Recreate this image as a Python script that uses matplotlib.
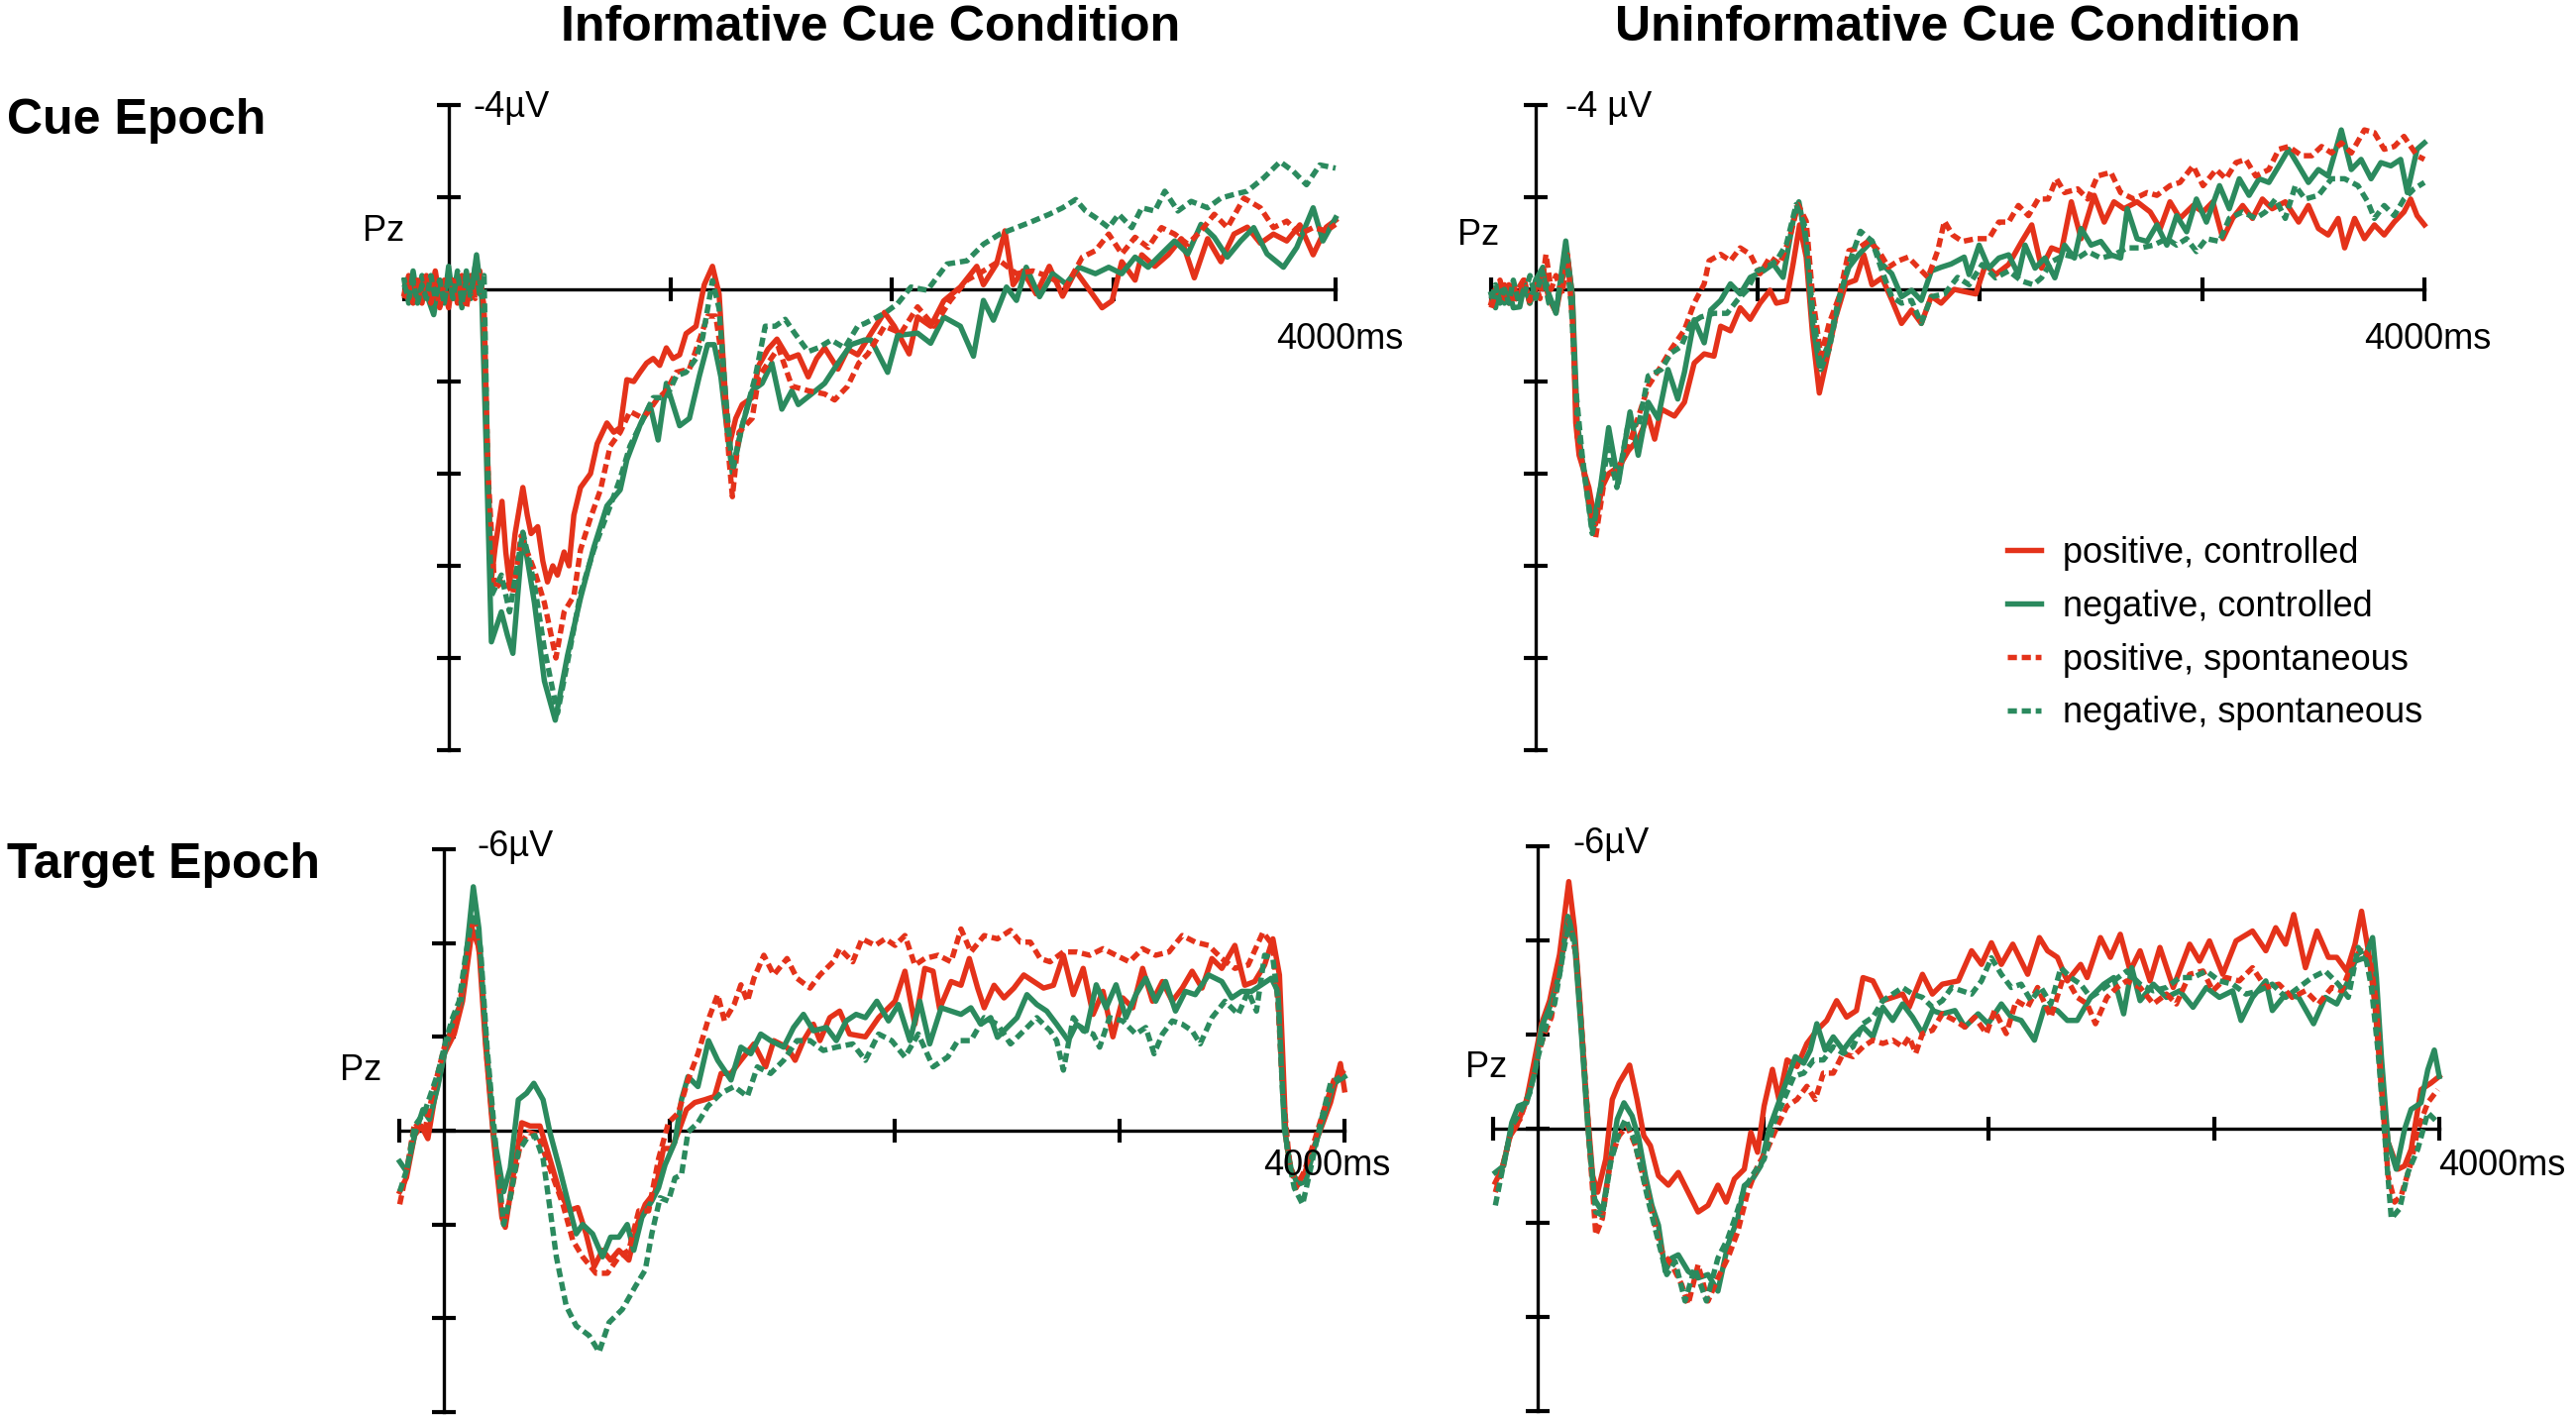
import matplotlib
matplotlib.use("Agg")
from matplotlib import pyplot as plt
import numpy as np

plt.rcParams["font.family"] = ["Liberation Sans", "DejaVu Sans"]

# ERP waveforms at Pz, (time ms, amplitude µV); negative is plotted up
cue_inf_pos_ctrl = [(-200,0.1),(-180,-0.3),(-160,0.2),(-140,-0.1),(-120,0.3),(-100,-0.2),(-80,0.1),(-60,-0.4),(-40,0.2),(-20,0.0),(0,0.4),(20,-0.2),(40,0.3),(60,-0.3),(80,0.2),(100,-0.3),(120,0.1),(141,-0.4),(156,0.3),(172,3.0),(193,6.3),(210,5.6),(241,4.6),(258,5.7),(275,6.4),(300,5.3),(335,4.3),(355,4.9),(372,5.3),(402,5.15),(425,5.9),(446,6.35),(470,6.0),(491,6.2),(521,5.7),(543,6.0),(565,4.9),(595,4.3),(640,4.0),(670,3.35),(714,2.9),(745,3.1),(774,3.0),(804,1.96),(835,2.0),(863,1.8),(893,1.6),(923,1.5),(952,1.65),(982,1.27),(1012,1.5),(1042,1.42),(1071,0.96),(1116,0.8),(1153,-0.1),(1190,-0.5),(1220,0.1),(1243,1.9),(1265,3.4),(1295,2.8),(1324,2.5),(1369,2.35),(1399,1.65),(1440,1.3),(1481,1.08),(1533,1.5),(1577,1.42),(1622,1.9),(1660,1.5),(1696,1.27),(1756,1.73),(1800,1.3),(1845,1.42),(1906,0.95),(1966,0.5),(2010,0.8),(2077,1.4),(2115,0.6),(2174,0.8),(2233,0.25),(2308,-0.05),(2382,-0.5),(2412,-0.1),(2471,-0.55),(2509,-1.27),(2546,-0.1),(2590,-0.4),(2650,0.1),(2709,-0.5),(2769,0.15),(2828,-0.4),(2888,0.0),(2947,0.4),(2992,0.25),(3036,-0.6),(3096,-0.2),(3126,-0.75),(3185,-0.5),(3245,-0.75),(3304,-1.1),(3363,-0.25),(3423,-1.1),(3483,-0.6),(3542,-1.2),(3602,-1.35),(3661,-1.0),(3720,-1.2),(3780,-1.05),(3839,-1.4),(3899,-0.75),(3958,-1.35),(4000,-1.5)]
cue_inf_neg_ctrl = [(-200,-0.2),(-180,0.3),(-160,-0.4),(-140,0.2),(-120,-0.3),(-100,0.1),(-67,0.55),(-40,-0.2),(-20,0.3),(0,-0.5),(20,0.2),(40,-0.3),(60,0.4),(80,-0.4),(100,0.2),(126,-0.75),(150,0.2),(170,3.5),(193,7.65),(238,7.0),(265,7.5),(290,7.9),(335,5.3),(360,6.0),(387,6.8),(432,8.5),(481,9.35),(536,7.95),(595,6.7),(655,5.6),(714,4.7),(774,4.35),(804,3.7),(863,2.95),(908,2.5),(945,3.27),(982,2.04),(1042,2.96),(1086,2.8),(1131,1.88),(1168,1.2),(1198,1.2),(1228,1.9),(1257,3.1),(1280,4.0),(1324,2.96),(1369,2.2),(1414,2.04),(1458,1.6),(1503,2.6),(1548,2.2),(1577,2.5),(1637,2.27),(1696,2.04),(1756,1.6),(1815,1.2),(1875,1.1),(1906,1.1),(1980,1.8),(2025,1.0),(2115,0.95),(2174,1.17),(2233,0.6),(2308,0.8),(2367,1.45),(2412,0.24),(2457,0.67),(2516,-0.05),(2561,0.24),(2605,-0.48),(2665,0.16),(2724,-0.34),(2784,-0.12),(2843,-0.48),(2917,-0.34),(2977,-0.48),(3036,-0.34),(3096,-0.7),(3155,-0.48),(3215,-0.77),(3274,-1.05),(3334,-0.77),(3393,-1.41),(3453,-1.13),(3512,-0.7),(3572,-1.05),(3631,-1.34),(3691,-0.77),(3765,-0.48),(3825,-0.91),(3899,-1.77),(3943,-1.05),(4000,-1.55)]
cue_inf_pos_spon = [(-200,0.2),(-180,-0.1),(-160,0.3),(-140,-0.2),(-120,0.2),(-100,-0.3),(-80,0.3),(-60,-0.1),(-40,0.4),(-20,-0.2),(0,0.3),(20,-0.3),(40,0.2),(60,-0.2),(80,0.4),(100,-0.1),(120,0.2),(140,-0.3),(160,0.4),(178,4.0),(208,6.5),(253,6.3),(290,6.6),(327,5.35),(387,6.1),(432,6.8),(484,8.0),(521,7.0),(565,6.65),(595,5.65),(640,4.96),(685,4.35),(729,3.4),(774,3.1),(818,2.65),(878,2.8),(938,2.4),(982,2.2),(1027,1.8),(1086,1.73),(1131,1.1),(1168,0.58),(1205,0.58),(1235,1.58),(1265,3.7),(1280,4.5),(1310,3.1),(1369,2.8),(1399,1.9),(1443,1.58),(1488,1.27),(1548,2.1),(1622,2.2),(1696,2.27),(1741,2.4),(1800,2.1),(1850,1.6),(1891,1.4),(1966,0.8),(2040,0.95),(2115,0.38),(2189,0.8),(2263,0.24),(2338,-0.2),(2412,-0.4),(2486,-0.62),(2561,-0.34),(2635,-0.4),(2709,-0.27),(2784,-0.05),(2858,-0.7),(2917,-0.84),(2977,-1.2),(3036,-0.77),(3096,-1.13),(3155,-0.91),(3215,-1.34),(3274,-1.2),(3334,-0.98),(3393,-1.27),(3453,-1.63),(3512,-1.34),(3587,-1.98),(3661,-1.77),(3720,-1.34),(3780,-1.48),(3839,-1.2),(3899,-1.34),(3958,-1.27),(4000,-1.41)]
cue_inf_neg_spon = [(-200,-0.1),(-180,0.2),(-160,-0.2),(-140,0.3),(-120,-0.1),(-100,0.2),(-80,-0.3),(-60,0.2),(-40,-0.2),(-20,0.3),(0,-0.3),(20,0.2),(40,-0.4),(60,0.3),(80,-0.2),(100,0.1),(120,-0.5),(140,0.1),(160,-0.3),(175,3.5),(193,6.65),(238,6.2),(275,7.0),(335,5.27),(387,6.4),(432,7.8),(491,9.2),(536,8.1),(595,6.6),(655,5.65),(729,4.7),(774,4.1),(818,3.4),(863,2.96),(923,2.35),(982,2.35),(1027,1.88),(1071,1.8),(1116,1.5),(1146,1.04),(1190,-0.19),(1220,0.42),(1250,2.35),(1280,3.9),(1324,2.96),(1384,1.88),(1428,0.8),(1473,0.8),(1518,0.65),(1562,0.96),(1622,1.35),(1666,1.27),(1726,1.1),(1786,1.27),(1845,0.8),(1877,0.74),(1966,0.52),(2025,0.31),(2085,-0.05),(2159,0.02),(2248,-0.55),(2338,-0.62),(2412,-0.98),(2486,-1.2),(2561,-1.34),(2635,-1.48),(2709,-1.63),(2769,-1.77),(2828,-1.95),(2873,-1.7),(2917,-1.56),(2977,-1.34),(3022,-1.63),(3081,-1.34),(3126,-1.77),(3185,-1.7),(3230,-2.13),(3289,-1.7),(3349,-1.91),(3423,-1.77),(3483,-1.98),(3542,-2.06),(3602,-2.13),(3676,-2.42),(3750,-2.77),(3810,-2.56),(3869,-2.27),(3929,-2.7),(4000,-2.63)]

cue_uninf_pos_ctrl = [(-200,0.3),(-182,0.0),(-160,0.2),(-140,-0.1),(-120,0.3),(-100,-0.1),(-80,0.2),(-50,-0.2),(-27,0.3),(0,0.0),(33,-0.35),(60,0.2),(92,0.5),(120,-0.2),(144,-0.7),(166,0.15),(181,2.9),(196,3.6),(240,4.3),(270,5.1),(299,4.3),(329,4.0),(359,3.9),(388,3.75),(418,3.5),(462,3.25),(507,2.75),(536,3.25),(566,2.6),(625,2.75),(670,2.45),(714,1.6),(759,1.4),(803,1.45),(833,0.8),(877,0.9),(921,0.4),(966,0.65),(1010,0.3),(1055,0.02),(1084,0.3),(1129,0.25),(1159,-0.55),(1188,-1.4),(1218,-0.7),(1247,1.0),(1277,2.25),(1307,1.6),(1351,0.6),(1396,-0.12),(1440,-0.2),(1477,-0.75),(1514,-0.1),(1559,-0.25),(1603,0.23),(1647,0.74),(1692,0.45),(1736,0.74),(1781,0.15),(1825,0.3),(1884,0.0),(1921,0.04),(1981,0.1),(2025,-0.54),(2070,-0.32),(2129,-0.54),(2188,-1.04),(2233,-1.4),(2277,-0.46),(2322,-0.9),(2366,-0.82),(2411,-1.9),(2455,-1.1),(2514,-2.04),(2559,-1.46),(2603,-1.9),(2648,-1.75),(2707,-1.9),(2766,-1.68),(2811,-1.32),(2855,-1.9),(2900,-1.54),(2959,-1.82),(3004,-1.68),(3048,-1.9),(3093,-1.1),(3137,-1.54),(3182,-1.82),(3226,-1.54),(3271,-1.96),(3315,-1.75),(3374,-1.9),(3434,-1.46),(3478,-1.82),(3523,-1.32),(3567,-1.18),(3612,-1.54),(3641,-0.9),(3686,-1.54),(3730,-1.1),(3775,-1.4),(3819,-1.18),(3864,-1.46),(3908,-1.68),(3938,-1.96),(3967,-1.6),(4000,-1.4)]
cue_uninf_neg_ctrl = [(-200,0.1),(-180,0.4),(-160,-0.1),(-140,0.3),(-120,0.0),(-100,0.4),(-71,0.38),(-50,-0.1),(-25,0.3),(0,-0.2),(33,-0.48),(60,0.1),(92,0.52),(115,-0.3),(136,-1.05),(166,0.16),(188,2.9),(210,3.7),(255,5.2),(292,4.3),(329,3.0),(373,4.2),(425,2.66),(462,3.6),(507,2.45),(551,2.8),(596,1.74),(640,2.38),(670,1.8),(714,0.66),(759,1.16),(788,0.45),(833,0.24),(877,-0.12),(921,0.1),(966,-0.26),(1025,-0.4),(1070,-0.55),(1114,-0.26),(1159,-1.48),(1185,-1.9),(1218,-1.05),(1247,0.74),(1277,1.66),(1321,1.16),(1366,0.16),(1410,-0.48),(1455,-0.76),(1514,-1.05),(1559,-0.55),(1603,-0.34),(1647,0.16),(1692,0.02),(1736,0.24),(1781,-0.4),(1825,-0.48),(1870,-0.55),(1929,-0.7),(1951,-0.32),(1996,-0.96),(2040,-0.46),(2085,-0.68),(2129,-0.75),(2173,-0.32),(2203,-0.96),(2248,-0.46),(2292,-0.68),(2337,-0.25),(2381,-0.96),(2425,-0.68),(2455,-1.32),(2500,-0.96),(2544,-1.04),(2589,-0.75),(2633,-0.68),(2663,-1.75),(2707,-1.1),(2752,-1.04),(2796,-1.4),(2841,-0.96),(2885,-1.6),(2930,-1.25),(2974,-1.96),(3019,-1.46),(3078,-2.25),(3122,-1.75),(3167,-2.4),(3211,-2.04),(3256,-2.4),(3300,-2.32),(3345,-2.68),(3389,-3.04),(3434,-2.68),(3478,-2.32),(3523,-2.6),(3567,-2.46),(3597,-2.96),(3626,-3.46),(3671,-2.6),(3715,-2.82),(3760,-2.4),(3804,-2.75),(3849,-2.68),(3893,-2.82),(3923,-2.1),(3967,-3.04),(4000,-3.18)]
cue_uninf_pos_spon = [(-200,0.4),(-180,0.1),(-160,-0.2),(-140,0.2),(-120,-0.1),(-100,0.3),(-80,0.0),(-55,-0.2),(-27,0.25),(0,-0.1),(20,0.2),(47,-0.76),(70,0.0),(92,-0.3),(120,0.1),(144,-0.75),(166,0.7),(188,3.2),(225,4.15),(270,5.4),(314,4.0),(359,4.0),(403,3.6),(447,3.0),(507,2.1),(566,1.66),(610,1.3),(670,0.88),(714,0.3),(759,-0.12),(781,-0.62),(833,-0.76),(877,-0.62),(921,-0.9),(966,-0.76),(1010,-0.34),(1055,-0.7),(1099,-0.55),(1144,-1.12),(1181,-1.84),(1218,-1.48),(1247,0.16),(1284,1.45),(1321,0.74),(1366,0.16),(1410,-0.84),(1455,-0.9),(1499,-1.05),(1544,-0.84),(1588,-0.48),(1633,-0.62),(1677,-0.7),(1721,-0.48),(1766,-0.26),(1810,-0.84),(1840,-1.48),(1877,-1.18),(1921,-1.04),(1981,-1.1),(2040,-1.1),(2085,-1.46),(2129,-1.46),(2173,-1.82),(2218,-1.6),(2262,-1.96),(2307,-1.96),(2344,-2.4),(2381,-2.1),(2440,-2.18),(2485,-1.96),(2529,-2.46),(2589,-2.54),(2633,-2.1),(2692,-1.96),(2752,-2.1),(2796,-2.04),(2855,-2.25),(2900,-2.32),(2959,-2.68),(3004,-2.25),(3063,-2.6),(3107,-2.4),(3152,-2.75),(3196,-2.82),(3241,-2.46),(3300,-2.6),(3345,-3.04),(3389,-3.1),(3448,-2.9),(3493,-2.9),(3537,-3.1),(3582,-2.96),(3626,-3.18),(3671,-2.96),(3730,-3.46),(3775,-3.4),(3819,-3.04),(3864,-3.1),(3908,-3.32),(3967,-2.9),(4000,-2.82)]
cue_uninf_neg_spon = [(-200,0.2),(-180,-0.1),(-160,0.3),(-140,0.0),(-120,0.3),(-100,-0.2),(-80,0.2),(-50,0.1),(-25,-0.3),(0,0.2),(30,-0.4),(60,0.3),(92,0.4),(115,-0.2),(136,-0.9),(160,0.3),(181,2.16),(210,3.6),(255,5.3),(299,4.15),(329,3.45),(366,4.3),(418,2.88),(462,3.0),(507,1.88),(566,1.74),(610,1.38),(655,1.24),(699,0.74),(744,0.6),(803,0.52),(862,0.52),(907,0.24),(951,0.02),(996,-0.4),(1040,-0.48),(1084,-0.62),(1129,-0.98),(1173,-1.84),(1210,-1.4),(1247,0.45),(1284,1.74),(1321,1.3),(1366,0.24),(1410,-0.55),(1462,-1.26),(1514,-1.05),(1559,-0.4),(1603,0.16),(1647,0.3),(1692,0.24),(1736,0.74),(1781,0.16),(1840,0.1),(1899,-0.26),(1951,-0.1),(2010,-0.54),(2070,-0.25),(2129,-0.4),(2188,-0.18),(2240,-0.1),(2277,-0.25),(2322,-0.6),(2381,-0.75),(2440,-0.68),(2485,-0.82),(2544,-0.68),(2603,-0.75),(2663,-0.9),(2722,-0.9),(2781,-0.96),(2841,-1.1),(2885,-0.96),(2930,-1.1),(2974,-0.82),(3019,-1.1),(3078,-1.04),(3122,-1.54),(3182,-1.68),(3241,-1.54),(3285,-1.68),(3330,-1.96),(3374,-1.54),(3419,-2.25),(3463,-1.96),(3523,-2.04),(3582,-2.4),(3641,-2.4),(3701,-2.25),(3745,-1.9),(3775,-1.54),(3819,-1.82),(3864,-1.6),(3908,-1.96),(3953,-2.18),(4000,-2.32)]

tgt_inf_pos_ctrl = [(-198,1.3),(-168,1.0),(-132,0.1),(-102,-0.1),(-73,0.17),(-44,-0.66),(0,-1.64),(44,-2.06),(81,-2.76),(124,-4.3),(154,-3.9),(183,-1.85),(220,0.24),(256,1.85),(271,2.06),(307,0.94),(344,-0.17),(381,-0.1),(425,-0.1),(469,0.6),(512,1.3),(556,1.7),(593,1.64),(630,2.2),(666,2.9),(703,2.55),(739,2.76),(776,2.55),(820,2.76),(857,2.0),(893,1.57),(937,1.3),(974,0.38),(1010,0.38),(1040,0.03),(1076,-0.45),(1113,-0.6),(1157,-0.66),(1201,-0.73),(1230,-1.22),(1274,-1.22),(1318,-1.5),(1376,-1.85),(1428,-1.36),(1464,-1.92),(1523,-1.78),(1559,-1.5),(1596,-1.92),(1640,-2.27),(1669,-1.92),(1713,-2.41),(1757,-2.55),(1801,-2.06),(1871,-2.0),(1930,-2.41),(2003,-2.76),(2047,-3.4),(2091,-2.27),(2135,-3.46),(2172,-3.4),(2201,-2.6),(2252,-3.18),(2296,-3.1),(2333,-3.67),(2370,-3.04),(2399,-2.62),(2443,-3.1),(2487,-2.83),(2531,-3.04),(2575,-3.32),(2619,-3.18),(2663,-3.04),(2707,-3.1),(2751,-3.74),(2795,-2.9),(2839,-3.46),(2883,-2.48),(2927,-2.97),(2971,-2.0),(3015,-2.83),(3059,-2.62),(3103,-3.46),(3147,-2.76),(3191,-3.18),(3235,-2.76),(3279,-3.04),(3323,-3.4),(3367,-3.04),(3411,-3.67),(3455,-3.46),(3513,-3.95),(3557,-3.1),(3601,-3.18),(3645,-3.53),(3682,-4.09),(3711,-3.32),(3726,-1.57),(3740,0.17),(3762,0.87),(3792,1.08),(3821,0.94),(3850,0.52),(3894,-0.03),(3938,-0.6),(3982,-1.43),(4000,-0.87)]
tgt_inf_neg_ctrl = [(-198,0.66),(-168,0.87),(-132,0.1),(-95,-0.45),(-66,-0.24),(-29,-0.94),(7,-1.78),(44,-2.41),(73,-2.69),(102,-3.95),(129,-5.2),(154,-4.3),(183,-2.06),(220,0.1),(264,1.3),(293,0.8),(329,-0.66),(366,-0.8),(398,-1.01),(439,-0.66),(469,0.03),(512,0.8),(556,1.64),(586,2.2),(615,2.0),(659,2.2),(703,2.69),(739,2.27),(776,2.27),(813,2.0),(842,2.55),(878,1.85),(922,1.5),(952,1.22),(981,0.73),(1025,0.24),(1054,-0.66),(1083,-1.15),(1127,-0.94),(1174,-1.92),(1215,-1.5),(1274,-1.08),(1318,-1.78),(1362,-1.64),(1406,-2.06),(1450,-1.92),(1508,-1.78),(1552,-2.2),(1596,-2.48),(1640,-2.13),(1698,-2.2),(1742,-1.92),(1786,-2.34),(1830,-2.48),(1871,-2.41),(1922,-2.76),(1974,-2.34),(2018,-2.69),(2069,-1.92),(2113,-2.76),(2157,-1.85),(2208,-2.62),(2252,-2.55),(2296,-2.48),(2340,-2.62),(2384,-2.27),(2428,-2.41),(2458,-1.99),(2501,-2.2),(2545,-2.41),(2589,-2.9),(2633,-2.69),(2677,-2.55),(2721,-2.27),(2773,-1.92),(2809,-2.27),(2853,-2.13),(2897,-3.11),(2941,-2.62),(2985,-3.11),(3029,-2.41),(3073,-2.9),(3117,-3.25),(3161,-2.76),(3205,-3.18),(3249,-2.55),(3293,-2.97),(3337,-2.9),(3396,-3.32),(3455,-3.18),(3499,-2.83),(3543,-2.97),(3587,-2.97),(3631,-3.11),(3675,-3.25),(3704,-2.97),(3718,-1.57),(3733,-0.03),(3762,0.8),(3792,1.15),(3828,1.08),(3865,0.38),(3909,-0.31),(3953,-1.01),(4000,-1.15)]
tgt_inf_pos_spon = [(-198,1.57),(-165,0.8),(-132,-0.17),(-88,0.03),(-51,-0.8),(0,-1.78),(59,-2.41),(110,-3.95),(132,-4.58),(161,-3.6),(190,-1.5),(227,0.45),(264,2.0),(293,1.43),(337,0.31),(373,0.03),(417,0.1),(454,0.6),(490,1.08),(527,1.57),(571,2.34),(615,2.69),(674,3.04),(725,3.04),(776,2.69),(820,2.55),(864,1.71),(908,1.71),(952,0.6),(996,-0.17),(1040,-0.38),(1083,-1.08),(1127,-1.64),(1171,-2.34),(1215,-2.9),(1245,-2.34),(1288,-2.69),(1318,-3.11),(1347,-2.76),(1376,-3.25),(1420,-3.74),(1464,-3.32),(1523,-3.67),(1567,-3.25),(1625,-3.04),(1669,-3.32),(1728,-3.6),(1757,-3.88),(1815,-3.6),(1856,-4.09),(1915,-3.95),(1959,-4.09),(2003,-3.95),(2047,-4.16),(2091,-3.53),(2135,-3.67),(2194,-3.74),(2252,-3.6),(2296,-4.3),(2340,-3.81),(2399,-4.16),(2458,-4.09),(2516,-4.27),(2560,-4.02),(2604,-4.02),(2648,-3.67),(2692,-3.6),(2751,-3.81),(2809,-3.81),(2868,-3.74),(2927,-3.88),(2985,-3.74),(3044,-3.6),(3103,-3.88),(3161,-3.74),(3220,-3.81),(3279,-4.16),(3337,-4.02),(3396,-3.95),(3455,-3.67),(3513,-3.46),(3572,-3.53),(3638,-4.23),(3682,-3.95),(3704,-2.76),(3726,-0.87),(3755,0.66),(3785,1.22),(3821,0.87),(3865,0.24),(3909,-0.45),(3953,-1.08),(4000,-1.29)]
tgt_inf_neg_spon = [(-198,1.3),(-165,0.8),(-132,-0.1),(-88,-0.39),(-29,-1.22),(7,-1.92),(37,-2.41),(66,-2.76),(95,-3.74),(132,-4.79),(161,-3.88),(190,-1.78),(227,0.24),(264,2.0),(293,1.43),(329,0.45),(366,0.17),(403,0.1),(439,0.6),(469,1.64),(498,2.69),(542,3.74),(586,4.16),(644,4.37),(688,4.72),(732,4.09),(791,3.81),(849,3.32),(893,2.97),(922,2.2),(959,1.43),(996,1.5),(1025,1.01),(1054,0.94),(1083,0.03),(1127,-0.17),(1171,-0.52),(1230,-0.8),(1288,-0.94),(1347,-0.73),(1391,-1.36),(1450,-1.22),(1508,-1.5),(1567,-1.92),(1625,-1.92),(1684,-1.71),(1742,-1.78),(1815,-1.85),(1871,-1.5),(1930,-2.06),(1988,-1.92),(2047,-1.57),(2106,-2.06),(2172,-1.36),(2237,-1.57),(2282,-1.92),(2340,-1.92),(2399,-2.41),(2458,-2.27),(2516,-1.85),(2575,-2.13),(2633,-2.41),(2692,-2.13),(2721,-1.92),(2751,-1.29),(2795,-2.41),(2839,-2.13),(2883,-2.06),(2912,-1.78),(2956,-2.41),(3015,-2.34),(3073,-2.06),(3117,-2.2),(3154,-1.64),(3191,-2.06),(3235,-2.34),(3279,-2.27),(3323,-2.13),(3359,-1.85),(3411,-2.41),(3469,-2.76),(3528,-2.48),(3572,-2.97),(3609,-2.55),(3645,-3.74),(3682,-3.67),(3707,-2.69),(3726,-0.73),(3748,0.52),(3777,1.22),(3814,1.57),(3850,0.8),(3894,-0.17),(3938,-1.01),(3982,-1.15)]

tgt_uninf_pos_ctrl = [(-190,1.14),(-161,0.86),(-124,0.15),(-95,-0.06),(-51,-0.62),(-22,-1.32),(15,-2.23),(51,-2.72),(95,-3.7),(136,-5.25),(161,-4.27),(183,-2.86),(212,-0.76),(242,1.0),(264,1.35),(300,0.65),(329,-0.62),(359,-0.97),(406,-1.35),(439,-0.62),(469,0.15),(498,0.36),(534,1.0),(578,1.2),(622,0.93),(666,1.35),(710,1.77),(754,1.63),(798,1.2),(835,1.56),(871,1.07),(915,0.86),(944,0.08),(974,0.5),(1003,-0.48),(1040,-1.26),(1069,-0.62),(1105,-1.46),(1149,-1.32),(1193,-1.81),(1237,-2.09),(1281,-2.3),(1325,-2.72),(1369,-2.37),(1413,-2.51),(1442,-3.21),(1486,-3.14),(1530,-2.72),(1574,-2.79),(1618,-2.86),(1647,-2.58),(1706,-3.28),(1750,-2.86),(1794,-3.07),(1865,-3.14),(1924,-3.78),(1968,-3.49),(2012,-3.95),(2056,-3.49),(2107,-3.92),(2173,-3.28),(2225,-4.06),(2261,-3.78),(2305,-3.64),(2349,-3.14),(2408,-3.49),(2437,-3.21),(2496,-4.06),(2540,-3.64),(2584,-4.13),(2628,-3.35),(2672,-3.78),(2716,-3.14),(2760,-3.85),(2819,-3.0),(2892,-3.92),(2936,-3.56),(2980,-3.99),(3039,-3.28),(3098,-3.99),(3171,-4.2),(3230,-3.78),(3274,-4.27),(3318,-3.92),(3354,-4.55),(3406,-3.42),(3457,-4.2),(3508,-3.64),(3545,-3.64),(3589,-3.35),(3626,-3.92),(3655,-4.62),(3685,-3.78),(3714,-2.65),(3743,-0.9),(3773,0.29),(3817,0.86),(3846,0.79),(3875,0.44),(3919,-0.83),(3963,-0.97),(4000,-1.11)]
tgt_uninf_neg_ctrl = [(-190,0.93),(-153,0.79),(-117,-0.13),(-88,-0.48),(-51,-0.55),(-15,-1.18),(15,-2.16),(51,-2.58),(95,-3.28),(132,-4.51),(161,-3.99),(190,-2.16),(220,-0.06),(249,1.49),(285,1.77),(322,0.65),(351,-0.2),(381,-0.55),(417,-0.27),(447,0.22),(476,1.0),(505,1.63),(534,2.05),(564,3.03),(593,2.75),(622,2.68),(666,3.03),(710,3.17),(754,3.1),(798,3.45),(842,2.47),(886,1.91),(915,1.21),(952,1.07),(988,0.79),(1025,0.01),(1062,-0.48),(1105,-1.04),(1142,-1.53),(1179,-1.39),(1208,-1.67),(1237,-2.23),(1274,-1.67),(1310,-1.95),(1354,-1.67),(1398,-1.95),(1442,-2.16),(1486,-1.95),(1530,-2.58),(1574,-2.3),(1618,-2.65),(1662,-2.37),(1706,-2.02),(1750,-2.51),(1794,-2.44),(1850,-2.51),(1894,-2.16),(1953,-2.44),(1997,-2.23),(2056,-2.65),(2100,-2.37),(2144,-2.3),(2203,-1.88),(2247,-2.58),(2305,-2.51),(2349,-2.3),(2393,-2.3),(2452,-2.79),(2511,-3.07),(2555,-3.21),(2599,-2.44),(2635,-3.42),(2672,-2.72),(2731,-3.07),(2789,-2.79),(2848,-2.93),(2907,-2.58),(2966,-3.0),(3024,-2.79),(3083,-2.93),(3120,-2.3),(3171,-2.79),(3230,-3.14),(3259,-2.51),(3318,-2.86),(3376,-2.79),(3442,-2.23),(3494,-2.79),(3545,-2.65),(3596,-3.14),(3626,-3.56),(3670,-3.63),(3704,-4.06),(3721,-3.21),(3743,-1.53),(3773,0.29),(3809,0.86),(3846,0.01),(3875,-0.41),(3919,-0.55),(3949,-1.25),(3978,-1.67),(4000,-1.11)]
tgt_uninf_pos_spon = [(-190,1.35),(-161,0.86),(-117,0.01),(-80,-0.2),(-37,-0.83),(0,-1.6),(29,-2.02),(59,-2.37),(95,-3.42),(136,-4.41),(168,-3.7),(198,-1.81),(227,0.29),(256,2.26),(285,1.91),(322,0.65),(359,0.15),(395,-0.06),(432,0.36),(469,1.07),(505,1.77),(549,2.61),(593,2.89),(637,3.31),(666,3.73),(710,2.89),(754,3.66),(798,3.17),(842,2.75),(886,2.19),(930,1.35),(974,0.79),(1018,0.43),(1062,-0.06),(1105,-0.48),(1149,-0.62),(1193,-0.9),(1230,-0.62),(1266,-1.18),(1310,-1.18),(1354,-1.6),(1398,-1.53),(1442,-1.74),(1486,-1.88),(1530,-1.81),(1574,-1.88),(1618,-1.74),(1647,-1.95),(1676,-1.6),(1706,-2.02),(1750,-2.09),(1794,-2.44),(1850,-2.3),(1894,-2.16),(1938,-2.37),(1990,-2.02),(2026,-2.51),(2078,-2.02),(2122,-2.72),(2173,-2.58),(2217,-3.0),(2276,-2.37),(2335,-3.28),(2393,-2.79),(2437,-2.65),(2474,-2.23),(2525,-2.79),(2569,-3.0),(2613,-3.14),(2672,-3.0),(2731,-2.65),(2789,-2.86),(2833,-2.65),(2892,-3.28),(2951,-3.35),(2995,-2.93),(3054,-3.21),(3112,-3.14),(3171,-3.42),(3230,-3.0),(3288,-3.07),(3347,-2.79),(3406,-2.93),(3464,-2.65),(3523,-3.0),(3567,-2.93),(3611,-3.49),(3655,-3.85),(3692,-3.63),(3721,-2.65),(3743,-0.9),(3773,1.0),(3802,1.56),(3831,1.42),(3875,0.72),(3905,0.01),(3949,-0.55),(3993,-0.83)]
tgt_uninf_neg_spon = [(-190,1.63),(-161,0.93),(-117,-0.06),(-80,-0.34),(-37,-0.76),(0,-1.53),(37,-2.23),(73,-2.65),(110,-3.7),(139,-4.41),(168,-3.7),(198,-1.74),(227,0.29),(256,1.77),(285,1.84),(322,0.72),(359,0.08),(388,-0.2),(425,0.22),(461,0.93),(490,1.56),(534,2.4),(571,3.1),(608,2.82),(652,3.66),(695,2.96),(747,3.66),(798,2.75),(842,2.33),(878,1.84),(915,1.28),(959,0.93),(1003,0.65),(1047,-0.13),(1091,-0.62),(1135,-1.11),(1179,-1.18),(1223,-1.46),(1266,-1.46),(1310,-1.74),(1354,-1.6),(1398,-1.74),(1442,-2.23),(1486,-2.37),(1530,-2.72),(1574,-2.86),(1618,-3.0),(1662,-2.86),(1706,-2.79),(1750,-2.58),(1794,-2.72),(1836,-3.0),(1880,-2.93),(1924,-2.86),(1968,-3.14),(2012,-3.63),(2056,-3.28),(2100,-3.0),(2144,-3.07),(2188,-2.72),(2232,-3.0),(2276,-2.65),(2320,-3.42),(2364,-3.21),(2408,-3.07),(2452,-2.79),(2496,-2.93),(2555,-3.14),(2613,-3.35),(2672,-3.07),(2731,-2.93),(2789,-3.0),(2848,-3.21),(2907,-3.21),(2966,-3.35),(3024,-3.14),(3083,-3.07),(3142,-2.86),(3200,-2.93),(3259,-3.07),(3318,-2.79),(3376,-3.0),(3435,-3.21),(3494,-3.35),(3552,-3.07),(3596,-2.79),(3640,-3.85),(3677,-3.56),(3699,-3.0),(3729,-1.6),(3758,0.15),(3787,1.91),(3824,1.7),(3861,0.93),(3905,0.43),(3949,-0.34),(3993,-0.13)]

series_labels = ["positive, controlled", "negative, controlled",
                 "positive, spontaneous", "negative, spontaneous"]
col_titles = ["Informative Cue Condition", "Uninformative Cue Condition"]
row_titles = ["Cue Epoch", "Target Epoch"]
x_ticks = [-200, 1000, 2000, 3000, 4000]

RED = "#e4321a"
GREEN = "#2b8a5e"
DASH = (0, (1.7, 0.9))
styles = [(RED, "-"), (GREEN, "-"), (RED, DASH), (GREEN, DASH)]

W, H = 2600, 1436
fig = plt.figure(figsize=(W / 100, H / 100), dpi=100)


def px_rect(x0, x1, ytop, ybot):
    return [x0 / W, 1 - ybot / H, (x1 - x0) / W, (ybot - ytop) / H]


def ftext(x, y, s, **kw):
    fig.text(x / W, 1 - y / H, s, **kw)


# panel: rect in pixels, y range, amplitude label, series
panels = [
    (px_rect(408, 1348, 106, 757), (-4, 10), "-4µV",
     [cue_inf_pos_ctrl, cue_inf_neg_ctrl, cue_inf_pos_spon, cue_inf_neg_spon]),
    (px_rect(1505, 2447, 106, 757), (-4, 10), "-4 µV",
     [cue_uninf_pos_ctrl, cue_uninf_neg_ctrl, cue_uninf_pos_spon, cue_uninf_neg_spon]),
    (px_rect(403, 1357, 857, 1425), (-6, 6), "-6µV",
     [tgt_inf_pos_ctrl, tgt_inf_neg_ctrl, tgt_inf_pos_spon, tgt_inf_neg_spon]),
    (px_rect(1507, 2462, 854, 1424), (-6, 6), "-6µV",
     [tgt_uninf_pos_ctrl, tgt_uninf_neg_ctrl, tgt_uninf_pos_spon, tgt_uninf_neg_spon]),
]

axes = []
for rect, (ylo, yhi), amp, data in panels:
    ax = fig.add_axes(rect)
    ax.patch.set_alpha(0)
    for (col, ls), pts, lab in zip(styles, data, series_labels):
        arr = np.array(pts)
        ax.plot(arr[:, 0], arr[:, 1], color=col, linestyle=ls, lw=3.9,
                label=lab, clip_on=False, zorder=3)
    ax.set_xlim(-200, 4000)
    ax.set_ylim(yhi, ylo)
    ax.spines["top"].set_visible(False)
    ax.spines["right"].set_visible(False)
    ax.spines["left"].set_position(("data", 0))
    ax.spines["bottom"].set_position(("data", 0))
    for sp in ("left", "bottom"):
        ax.spines[sp].set_linewidth(2.4)
    ax.set_xticks(x_ticks)
    ax.set_yticks(np.arange(ylo, yhi + 1, 2))
    ax.tick_params(direction="inout", length=17, width=3,
                   labelbottom=False, labelleft=False)
    axes.append(ax)

# text labels
LBL = 26
ftext(879, 41, col_titles[0], ha="center", va="baseline", fontsize=36, fontweight="bold")
ftext(1976, 41, col_titles[1], ha="center", va="baseline", fontsize=36, fontweight="bold")
ftext(7, 135, row_titles[0], ha="left", va="baseline", fontsize=36, fontweight="bold")
ftext(7, 886, row_titles[1], ha="left", va="baseline", fontsize=36, fontweight="bold")

ftext(477, 118, panels[0][2], fontsize=LBL, va="baseline")
ftext(1580, 118, panels[1][2], fontsize=LBL, va="baseline")
ftext(481, 864, panels[2][2], fontsize=LBL, va="baseline")
ftext(1587, 861, panels[3][2], fontsize=LBL, va="baseline")

ftext(366, 243, "Pz", fontsize=LBL, va="baseline")
ftext(1471, 247, "Pz", fontsize=LBL, va="baseline")
ftext(343, 1090, "Pz", fontsize=LBL, va="baseline")
ftext(1479, 1087, "Pz", fontsize=LBL, va="baseline")

ftext(1288, 352, "4000ms", fontsize=LBL, va="baseline")
ftext(2386, 352, "4000ms", fontsize=LBL, va="baseline")
ftext(1275, 1186, "4000ms", fontsize=LBL, va="baseline")
ftext(2461, 1186, "4000ms", fontsize=LBL, va="baseline")

axes[1].legend(loc="upper left", bbox_to_anchor=(2026 / W, 1 - 541 / H),
               bbox_transform=fig.transFigure, frameon=False, fontsize=LBL,
               handlelength=0.95, handletextpad=0.6, labelspacing=0.52,
               borderpad=0, borderaxespad=0)

fig.savefig("out.png", dpi=100)
